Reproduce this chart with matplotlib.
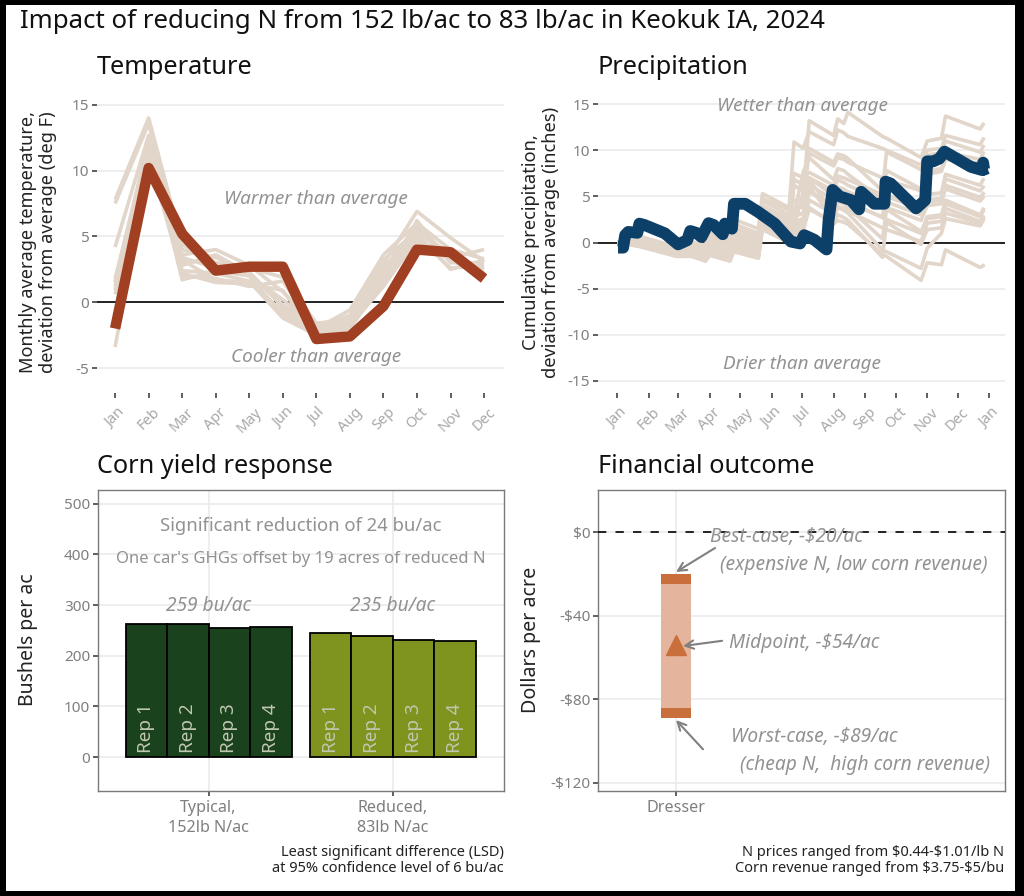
import matplotlib
matplotlib.use("Agg")
import matplotlib.pyplot as plt
from matplotlib.patches import Rectangle

plt.rcParams['font.family'] = ['Noto Sans', 'DejaVu Sans']
plt.rcParams['axes.unicode_minus'] = False

W, H = 1024, 896

# Temperature panel data
months = ['Jan', 'Feb', 'Mar', 'Apr', 'May', 'Jun', 'Jul', 'Aug', 'Sep', 'Oct', 'Nov', 'Dec']
month_nums = [1, 2, 3, 4, 5, 6, 7, 8, 9, 10, 11, 12]
temp_2024 = [-2.0, 10.2, 5.2, 2.4, 2.7, 2.7, -2.8, -2.6, -0.3, 4.0, 3.8, 1.8]
temp_hist = [
    [7.8, 14.0, 4.4, 3.0, 2.6, 1.9, -1.6, -1.3, 2.9, 6.9, 4.9, 3.1],
    [7.5, 13.6, 3.6, 4.0, 2.8, 0.8, -2.0, -0.6, 3.6, 6.0, 4.0, 3.3],
    [4.2, 12.7, 2.8, 3.6, 2.2, -0.2, -1.9, -1.0, 3.2, 5.4, 3.4, 4.0],
    [1.8, 12.0, 1.7, 2.4, 2.0, -1.0, -2.3, -1.2, 2.5, 5.8, 3.2, 2.2],
    [1.6, 11.3, 2.4, 2.2, 1.6, -1.2, -2.5, -1.6, 2.0, 5.2, 2.5, 3.2],
    [0.6, 11.0, 2.2, 1.5, 1.4, 0.9, -2.6, -2.0, 1.6, 5.0, 2.6, 2.8],
    [-3.4, 10.6, 3.2, 1.7, 1.5, -0.7, -2.2, -1.8, 1.2, 4.8, 3.2, 2.2],
    [1.2, 10.5, 3.4, 2.6, 2.0, 0.2, -1.9, -1.4, 2.2, 5.5, 3.6, 2.5],
    [0.9, 11.6, 4.0, 3.4, 2.3, -0.4, -2.4, -1.0, 2.7, 4.6, 3.8, 2.0],
    [1.5, 12.3, 2.0, 1.8, 1.2, 1.6, -2.1, -1.5, 1.4, 6.2, 3.0, 3.0],
]

# Precipitation panel data
precip_ticks = [1, 32, 61, 92, 122, 153, 183, 214, 245, 275, 306, 336, 367]
precip_labels = ['Jan', 'Feb', 'Mar', 'Apr', 'May', 'Jun', 'Jul', 'Aug', 'Sep', 'Oct', 'Nov', 'Dec', 'Jan']
precip_days = [2, 7, 9, 12, 21, 23, 28, 48, 61, 70, 73, 79, 84, 91, 96, 105, 107, 114, 116, 127, 140, 156,
               172, 181, 185, 195, 207, 209, 213, 220, 231, 239, 241, 254, 264, 265, 270, 295, 304, 306,
               312, 318, 323, 349, 360, 361, 362, 365]
precip_2024 = [-0.55, -0.55, 0.8, 1.15, 1.05, 2.05, 1.9, 1.0, -0.2, 0.25, 1.25, 1.05, 0.6, 2.1, 1.9, 0.9, 2.05,
               1.5, 4.2, 4.2, 3.3, 2.05, 0.1, -0.1, 0.8, 0.3, -0.75, 2.4, 5.7, 5.0, 4.6, 3.6, 5.5, 4.2, 4.2,
               6.6, 6.4, 3.7, 4.6, 8.8, 8.8, 9.1, 9.85, 8.2, 7.85, 8.65, 7.9, 8.05]
hist_days = [3, 22, 26, 60, 74, 88, 92, 112, 116, 140, 144, 170, 175, 184, 190, 214, 218, 224, 228, 262, 266, 300,
             306, 320, 324, 358, 361]
precip_hist = [
    [0, .3, .6, -.5, .1, -.3, 1.5, .8, 2.5, 1.5, 5.3, 3.8, 4.5, 5, 13.2, 11.6, 13.4, 12.9, 14.1, 11.5, 11.3, 9.2, 11, 11.3, 13.7, 12.3, 12.8],
    [0, .2, .4, -.6, -.1, -.6, 1.0, .3, 2.0, 1.0, 4.8, 3.5, 10.9, 10.2, 12.0, 10.6, 12.2, 11.9, 11.5, 10.2, 10.0, 8.4, 10, 10.2, 11.6, 10.6, 11.2],
    [0, .1, .3, -.8, -.3, -.9, .6, 0, 1.6, .6, 4.5, 3, 3.6, 3.9, 10.2, 8.7, 9.6, 9.4, 9.1, 5.6, 9.8, 7.9, 9.5, 9.7, 11.0, 9.8, 10.4],
    [0, -.1, .2, -1, -.6, -1.2, .3, -.4, 1.2, .2, 4, 2.6, 6.8, 6.3, 9.7, 8.3, 9.2, 9, 8.7, 7, 6.8, 5.6, 7.8, 8, 9.8, 9, 9.7],
    [0, 0, .2, -.9, -.5, -1.1, .4, -.3, 1, 0, 3.9, 2.4, 3, 7.6, 9.2, 6.8, 8, 7.8, 7.4, 4.6, 7.8, 5.8, 7.4, 7.7, 9, 8.6, 9.2],
    [0, .1, .2, -.8, -.4, -1, .2, -.6, .8, -.2, 3.6, 2.2, 7.5, 7, 7.6, 6.2, 7.2, 7.0, 6.8, 5.2, 5.0, 3.6, 5.2, 5.4, 7.4, 6.2, 6.8],
    [0, 0, .1, -1, -.7, -1.3, .1, -.8, .6, -.4, 3.2, 1.8, 2.8, 3.2, 7, 5.6, 6.8, 6.5, 6.2, 4.6, 4.4, 3.0, 4.6, 4.8, 6.9, 5.6, 6.0],
    [0, -.1, 0, -1.1, -.8, -1.5, -.1, -1, .3, -.7, 2.9, 1.5, 6.8, 6.3, 7, 5.1, 6, 5.8, 5.5, 4, 3.8, 2.4, 4, 4.2, 6.2, 4.9, 5.3],
    [0, -.2, -.1, -1.2, -1, -1.7, -.4, -1.3, 0, -1, 2.5, 1.2, 2.2, 2.6, 6.2, 4.7, 4.7, 4.5, 4.2, 2.8, 5.2, 3.6, 4.4, 4.6, 5.8, 4.5, 4.9],
    [0, -.2, -.2, -1.3, -1.1, -1.8, -.6, -1.5, -.2, -1.2, 2.2, .9, 1.9, 2.4, 5.5, 4, 5, 4.8, 4.5, 2.7, 2.5, 1, 2.8, 3, 4.6, 3, 3.6],
    [0, -.3, -.4, -1.3, -1, -1.8, -.7, -1.4, -.2, -1, 2.4, 1, 1.8, 5.4, 6.8, 3.2, 4.4, 4.2, 3.8, .4, 3.6, 1.2, 2.6, 2.8, 4.2, 2.8, 3.4],
    [0, -.3, -.3, -1.4, -1.2, -1.9, -.9, -1.8, -.4, -1.4, 2, .7, 1.6, 2, 4.6, 3.1, 3.9, 3.7, 3.4, 1.6, 1.4, .1, 2.1, 2.3, 3.7, 2.3, 2.8],
    [0, -.4, -.5, -1.5, -1.4, -2, -1.2, -2, -.7, -1.6, 1.7, .4, 1.2, 1.6, 3.6, 2.2, 3, 2.7, 2.4, -1.6, 2.2, -.2, 1.4, 1.6, 3.2, 2.1, 2.6],
    [0, -.2, -.3, -1.4, -1.3, -1.9, -.8, -1.7, -.5, -1.5, 1.8, .6, 6.2, 5.6, 6, 2.6, 3.8, 3.5, 3.2, -.8, -1, -2.8, -.6, 1, 2.6, 1.8, 2.4],
    [0, -.4, -.5, -1.5, -1.5, -2, -1.4, -2, -1, -1.7, 1.4, 0, .8, 1.2, 3.8, 2, 2.4, 2.2, 2, -1.3, -1.5, -4.1, -2.2, -2.4, -.8, -2.7, -2.5],
]

# Yield panel data
yield_groups = ['Typical,\n152lb N/ac', 'Reduced,\n83lb N/ac']
yield_typical = [263, 262, 254, 256]
yield_reduced = [245, 238, 230, 229]
rep_labels = ['Rep 1', 'Rep 2', 'Rep 3', 'Rep 4']
yield_means = ['259 bu/ac', '235 bu/ac']

# Financial panel data
fin_best = -20
fin_mid = -54
fin_worst = -89
fin_ticks = [0, -40, -80, -120]
fin_tick_labels = [r'\$0', r'-\$40', r'-\$80', r'-\$120']

GRID = '#ebebeb'
BG_LINE = '#e2d5ca'
TICK_TXT = '#7f7f7f'
NOTE = '#929292'


def panel(l, t, r, b):
    return fig.add_axes([l / W, 1 - b / H, (r - l) / W, (b - t) / H])


def ftext(x, y, s, **kw):
    fig.text(x / W, 1 - y / H, s, **kw)


fig = plt.figure(figsize=(W / 100, H / 100), dpi=100, facecolor='black')
fig.add_artist(Rectangle((5.5 / W, 1 - 890.5 / H), 1009.5 / W, 885 / H, transform=fig.transFigure,
                         facecolor='white', edgecolor='none', zorder=-5))

ftext(20, 21, 'Impact of reducing N from 152 lb/ac to 83 lb/ac in Keokuk IA, 2024',
      fontsize=18.6, va='center', ha='left', color='#111111')
for x, y, s in [(97, 68, 'Temperature'), (598, 68, 'Precipitation'),
                (97, 466, 'Corn yield response'), (598, 466, 'Financial outcome')]:
    ftext(x, y, s, fontsize=18.2, va='center', ha='left', color='#111111')

# Temperature
ax1 = panel(97, 93, 503.5, 393)
ax1.set_xlim(0.46, 12.58)
ax1.set_ylim(-6.9, 15.9)
ax1.axhline(0, color='black', lw=1.2, zorder=1.5)
for s in temp_hist:
    ax1.plot(month_nums, s, color=BG_LINE, lw=2.6, solid_capstyle='butt', zorder=2)
ax1.plot(month_nums, temp_2024, color='#a03f22', lw=7.5, solid_capstyle='butt', solid_joinstyle='round', zorder=3)
ax1.set_xticks(month_nums, months)
ax1.set_yticks([-5, 0, 5, 10, 15])
ax1.text(7, 7.85, 'Warmer than average', style='italic', color=NOTE, fontsize=13.6, ha='center', va='center')
ax1.text(7, -4.2, 'Cooler than average', style='italic', color=NOTE, fontsize=13.6, ha='center', va='center')

# Precipitation
ax2 = panel(598, 93, 1004.5, 393)
ax2.set_xlim(-17.7, 382)
ax2.set_ylim(-16.3, 16.2)
ax2.axhline(0, color='black', lw=1.2, zorder=1.5)
for s in precip_hist:
    ax2.plot(hist_days, s, color=BG_LINE, lw=2.6, solid_joinstyle='round', zorder=2)
ax2.plot(precip_days, precip_2024, color='#0c4069', lw=8.5, solid_capstyle='butt', solid_joinstyle='round', zorder=3)
ax2.set_xticks(precip_ticks, precip_labels)
ax2.set_yticks([-15, -10, -5, 0, 5, 10, 15])
ax2.text(183, 14.8, 'Wetter than average', style='italic', color=NOTE, fontsize=13.6, ha='center', va='center', zorder=4)
ax2.text(183, -13.2, 'Drier than average', style='italic', color=NOTE, fontsize=13.6, ha='center', va='center', zorder=4)

for ax in (ax1, ax2):
    for sp in ax.spines.values():
        sp.set_visible(False)
    ax.grid(axis='y', color=GRID, lw=1.2)
    ax.set_axisbelow(True)
    ax.tick_params(axis='y', length=3.5, width=1.1, color='#333333', labelcolor=TICK_TXT, labelsize=11, pad=2)
    ax.tick_params(axis='x', length=3.5, width=1.1, color='#333333', labelcolor='#a8a8a8', labelsize=10.5, pad=5)
    for lab in ax.get_xticklabels():
        lab.set_rotation(45)
        lab.set_ha('center')

ftext(38, 242, 'Monthly average temperature,\ndeviation from average (deg F)', rotation=90,
      fontsize=13.1, ha='center', va='center', linespacing=1.15, color='#222222')
ftext(541, 242, 'Cumulative precipitation,\ndeviation from average (inches)', rotation=90,
      fontsize=13.2, ha='center', va='center', linespacing=1.15, color='#222222')

# Yield
ax3 = panel(98, 490, 503.5, 791)
ax3.set_xlim(0.4, 2.6)
ax3.set_ylim(-67, 527)
bar_w = 0.225
for center, vals, col in [(1, yield_typical, '#1a421c'), (2, yield_reduced, '#7f931f')]:
    for i, v in enumerate(vals):
        x = center + (i - 1.5) * bar_w
        ax3.bar(x, v, width=bar_w, color=col, edgecolor='black', lw=1.3, zorder=3)
        ax3.text(x, 8, rep_labels[i], rotation=90, color='#c0c8b0', fontsize=13.6, ha='center', va='bottom', zorder=4)
ax3.set_xticks([1, 2], yield_groups)
ax3.set_yticks([0, 100, 200, 300, 400, 500])
ax3.text(1.5, 455, 'Significant reduction of 24 bu/ac', color=NOTE, fontsize=13.3, ha='center', va='center')
ax3.text(1.5, 390, "One car's GHGs offset by 19 acres of reduced N", color=NOTE, fontsize=12, ha='center', va='center')
ax3.text(1, 299, yield_means[0], style='italic', color=NOTE, fontsize=13.8, ha='center', va='center')
ax3.text(2, 299, yield_means[1], style='italic', color=NOTE, fontsize=13.8, ha='center', va='center')
ftext(28, 640, 'Bushels per ac', rotation=90, fontsize=14, ha='center', va='center', color='#222222')

# Financial
ax4 = panel(598, 490, 1004.5, 791)
ax4.set_xlim(0, 5.21)
ax4.set_ylim(-124, 20.3)
ax4.bar(1, fin_worst - fin_best, bottom=fin_best, width=0.39, color='#e5b49c', zorder=2)
ax4.bar(1, -5, bottom=fin_best, width=0.39, color='#c96f3b', zorder=3)
ax4.bar(1, 5, bottom=fin_worst, width=0.39, color='#c96f3b', zorder=3)
ax4.plot([1], [fin_mid], marker='^', ms=14, color='#c96f3b', ls='none', zorder=4)
ax4.axhline(0, color='black', lw=1.2, dashes=(5, 5.5), zorder=3)
ax4.set_xticks([1], ['Dresser'])
ax4.set_yticks(fin_ticks, fin_tick_labels)
for xy, tail in [((1, -19), (1.5, -7.5)), ((1.09, -54.5), (1.59, -52)), ((1, -90), (1.346, -104))]:
    ax4.annotate('', xy=xy, xytext=tail, zorder=5,
                 arrowprops=dict(arrowstyle='->', color='#808080', lw=1.5, mutation_scale=15, shrinkA=0, shrinkB=0))
for x, y, s in [(786, 537, r'Best-case, -\$20/ac'), (853.5, 565, '(expensive N, low corn revenue)'),
                (804.5, 643, r'Midpoint, -\$54/ac'), (814, 737, r'Worst-case, -\$89/ac'),
                (864.5, 765, '(cheap N,  high corn revenue)')]:
    ftext(x, y, s, style='italic', color=NOTE, fontsize=13.8, ha='center', va='center', zorder=6)
ftext(531, 640, 'Dollars per acre', rotation=90, fontsize=14.1, ha='center', va='center', color='#222222')

for ax in (ax3, ax4):
    for sp in ax.spines.values():
        sp.set_color('#7a7a7a')
        sp.set_linewidth(1.0)
    ax.grid(color=GRID, lw=1.2)
    ax.set_axisbelow(True)
    ax.tick_params(axis='y', length=3.5, width=1.1, color='#333333', labelcolor=TICK_TXT, labelsize=11, pad=2)
    ax.tick_params(axis='x', length=3.5, width=1.1, color='#333333', labelcolor=TICK_TXT, labelsize=11.6, pad=3)
    for lab in ax.get_xticklabels():
        lab.set_linespacing(1.3)

ftext(503.5, 860.5, 'Least significant difference (LSD)\nat 95% confidence level of 6 bu/ac', ha='right', va='center',
      fontsize=10.5, linespacing=1.12, color='#222222')
ftext(1004.5, 860.5, 'N prices ranged from \\$0.44-\\$1.01/lb N\nCorn revenue ranged from \\$3.75-\\$5/bu', ha='right', va='center',
      fontsize=10.5, linespacing=1.12, color='#222222')

fig.savefig('out.png', dpi=100, facecolor='black')
